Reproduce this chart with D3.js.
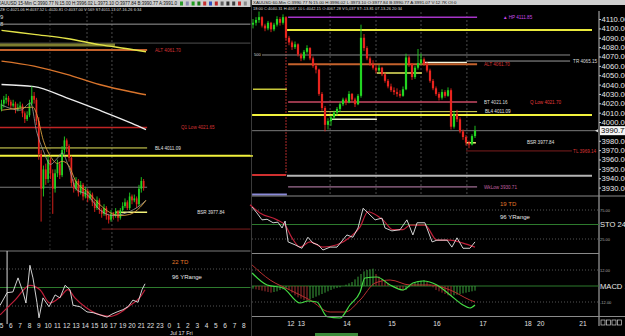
<!DOCTYPE html>
<html>
<head>
<meta charset="utf-8">
<script src="https://cdn.jsdelivr.net/npm/d3@7"></script>
<style>
  body { margin: 0; background: #000; }
  svg { display: block; font-family: "Liberation Sans", Arial, sans-serif; }
</style>
</head>
<body>
<div id="chart"></div>
<script>
// ---- data ----
// 15-min candles, left panel [open, high, low, close]
const leftCandles = [
  [4031,4036,4030,4034],[4034,4038,4032,4036],[4036,4039,4034,4037],[4037,4038,4033,4035],
  [4035,4036,4031,4033],[4033,4036,4032,4034],[4034,4035,4029,4031],[4031,4034,4030,4032],
  [4032,4035,4031,4033],[4033,4034,4027,4029],[4029,4030,4024,4026],[4026,4030,4025,4028],
  [4028,4036,4027,4034],[4034,4043,4033,4038],[4038,4040,4034,4036],[4036,4037,4023,4025],
  [4025,4027,4005,4008],[4008,4010,3973,3990],[3990,4002,3986,4000],[4000,4003,3992,3995],
  [3995,4007,3993,4005],[4005,4006,3995,3998],[3998,4000,3977,3990],[3990,4000,3988,3998],
  [3998,4005,3996,4003],[4003,4004,3995,3997],[3997,4012,3996,4010],[4010,4017,4008,4015],
  [4015,4016,4009,4012],[4012,4013,4004,4006],[4006,4007,3991,3993],[3993,3995,3988,3990],
  [3990,3996,3989,3994],[3994,3995,3986,3988],[3988,3994,3987,3992],[3992,3993,3984,3986],
  [3986,3991,3985,3989],[3989,3990,3983,3985],[3985,3989,3984,3987],[3987,3988,3981,3983],
  [3983,3984,3978,3980],[3980,3986,3979,3984],[3984,3985,3977,3979],[3979,3980,3975,3977],
  [3977,3982,3976,3980],[3980,3981,3974,3976],[3976,3977,3972,3974],[3974,3979,3973,3977],
  [3977,3978,3974,3976],[3976,3980,3975,3978],[3978,3979,3973,3975],[3975,3980,3974,3979],
  [3979,3983,3978,3981],[3981,3985,3980,3983],[3983,3984,3979,3980],[3980,3988,3979,3986],
  [3986,3987,3982,3984],[3984,3987,3983,3985],[3985,3986,3980,3982],[3982,3992,3981,3990],
  [3990,3996,3988,3994],[3994,3995,3989,3990.77]
];

// 60-min candles, right panel [open, high, low, close]
const rightCandles = [
  [4104,4110,4100,4106],[4106,4112,4103,4109],[4109,4118,4106,4112],[4112,4113,4101,4103],
  [4103,4105,4097,4100],[4100,4108,4098,4106],[4106,4107,4096,4099],[4099,4106,4097,4104],
  [4104,4113,4102,4110],[4110,4112,4103,4106],[4106,4115,4104,4112],[4112,4113,4088,4090],
  [4090,4092,4082,4085],[4085,4087,4077,4080],[4080,4086,4078,4083],[4083,4084,4070,4072],
  [4072,4074,4065,4068],[4068,4077,4066,4075],[4075,4082,4073,4079],[4079,4080,4066,4068],
  [4068,4070,4058,4060],[4060,4063,4052,4056],[4056,4057,4028,4030],[4030,4032,4012,4015],
  [4015,4017,3990,3997],[3997,4004,3992,4001],[4001,4007,3996,4005],[4005,4012,4003,4010],
  [4010,4016,4007,4014],[4014,4021,4011,4019],[4019,4026,4017,4024],[4024,4026,4018,4021],
  [4021,4033,4020,4030],[4030,4031,4021,4024],[4024,4026,4016,4019],[4019,4030,4018,4028],
  [4028,4104,4026,4090],[4090,4094,4076,4079],[4079,4081,4066,4068],[4068,4070,4060,4062],
  [4062,4066,4056,4058],[4058,4060,4052,4055],[4055,4061,4053,4058],[4058,4059,4049,4051],
  [4051,4053,4042,4044],[4044,4046,4036,4038],[4038,4041,4032,4034],[4034,4037,4029,4032],
  [4032,4036,4027,4030],[4030,4034,4026,4028],[4028,4038,4027,4035],[4035,4073,4034,4069],
  [4069,4071,4059,4062],[4062,4063,4045,4048],[4048,4060,4046,4058],[4058,4078,4056,4063],
  [4063,4073,4061,4067],[4067,4069,4060,4062],[4062,4064,4053,4055],[4055,4057,4042,4044],
  [4044,4046,4034,4036],[4036,4038,4028,4030],[4030,4032,4023,4026],[4026,4035,4024,4032],
  [4032,4034,4026,4028],[4028,4037,4027,4034],[4034,4036,3992,3995],[3995,4012,3993,4008],
  [4008,4013,4000,4003],[4003,4005,3988,3990],[3990,3992,3981,3984],[3984,3986,3975,3978],
  [3978,3980,3972,3976],[3976,3987,3975,3985],[3985,3996,3983,3990.77]
];

// slow moving averages on the left panel, sampled at candle indexes
const maIdx    = [0, 14, 28, 42, 56, 62];
const maYellow = [4071.9, 4069.8, 4067.7, 4064.5, 4062.0, 4060.8];
const maOrange = [4056.0, 4053.4, 4049.1, 4043.9, 4040.0, 4038.6];
const maWhite  = [4043.9, 4042.8, 4037.0, 4030.6, 4023.8, 4020.6];

// fast moving averages [candle index, price]
const maFastOrange = [[0,4030.6],[8,4031.7],[13.5,4032.2],[15,4029],[18,4014.8],[21,4006.8],[24,4003.1],
  [26,4004.2],[28.5,4002.6],[32,3993.6],[37,3988.3],[42,3982],[46.5,3977.7],[51,3976.1],[55,3976.7],
  [59.5,3980.4],[62,3984]];
const maFastGray = [[0,4033.3],[8,4030.6],[12.5,4034.3],[15,4020],[18,4009.5],[21,4002.6],[24,4005.8],
  [26,4008.5],[28.5,4002.6],[32,3989.9],[37,3986.7],[42,3979.3],[48,3976.1],[54,3977.7],[59.5,3981.4],[62,3984]];

// left oscillator [candle index, value]
const leftOscK = [[-0.6,26],[2.4,43],[4.9,44],[7.1,63],[9.2,44],[10.5,29],[12.2,80],[13.5,63],[15.2,30],
  [16.1,9],[17.8,36],[20.4,24],[23,40],[25.1,36],[27.3,53],[29.4,47],[30.7,26],[33.7,24],[36.7,17],
  [39.3,16],[42.3,13],[45.3,10],[47.4,14],[49.6,17],[52.1,20],[54.3,24],[56.4,33],[58.6,30],[60.3,47],[61.6,55]];
const leftOscD = [[-0.6,13],[5.8,33],[12.2,53],[16.5,47],[20.8,29],[25.1,37],[28.5,47],[31.5,36],
  [35.8,24],[42.3,13],[46.6,11],[50.9,16],[55.2,26],[59.5,37],[61.6,47]];

// right stochastic [candle index, value]
const stoK = [[-0.3,80],[1.3,70],[3,58],[4.7,59],[6.7,53],[8.3,54],[9.7,44],[10.7,56],[11.7,20],[14,15],
  [16.3,9],[18.3,28],[20,18],[21.7,15],[23.3,6],[25.7,11],[28,11],[31.3,32],[33.3,28],[35,44],[36.7,78],
  [38.3,70],[40.7,58],[43,61],[44,44],[46.3,39],[49,41],[51.3,58],[53.3,32],[54.7,53],[57.3,53],[59.7,20],
  [61.3,23],[64.7,23],[66.3,11],[68,27],[70,9],[72.3,9],[74,20]];
const stoD = [[-1,84],[2.3,70],[8,58],[10.7,49],[13,27],[15.7,11],[19,20],[23.3,11],[28,15],[32.3,28],
  [35.7,46],[38.3,72],[43.3,58],[46.7,41],[50,41],[52.3,49],[57.3,49],[61.3,23],[65.7,23],[70,18],[74,11]];

// right MACD [candle index, value] and histogram per candle
const macdLine = [[-0.3,9.75],[4.7,0.75],[10,-1.5],[15.7,-12.75],[18.3,-11.25],[21.3,-12],[24.7,-23],
  [29,-24],[32.3,-14.25],[35.7,-4.5],[37.3,6],[41.3,6.75],[45.7,0.75],[50,-3],[53.3,2.25],[56.7,3.75],
  [61.3,0.75],[65.7,-6.75],[70,-14.25],[72.3,-16.5],[74,-14.25]];
const macdSignal = [[-0.3,15.75],[5.7,4.5],[12.3,-3],[19,-10.5],[25.7,-19.5],[30.7,-19.5],[35.7,-10.5],
  [40.7,2.25],[45.7,4.5],[52.3,0.75],[59,0.75],[65.7,-3],[72.3,-10.5],[74,-12]];
const macdHist = [-2,-2.5,-3,-3.5,-4,-4.5,-5, -4.5,-4,-3,-2.5,-2, -3,-5,-7,-8.5,-9.5,-10.5,-11,
  -10,-9,-8,-7,-6,-5,-4,-3,-2,-1.5,-1, 0,1,2,3,5,7,9,11,12,12.5,13, 9,7,5,3,2,0,
  -1,-2,-3,-3.5,-3, -1,1,2.5,3.5,4,4.5, 3,1,-1,-3,-4,-5,-6,-7,-7.5, -7,-6.5,-6,-5.5,-5,-4.5,-4,-3.5];

// price levels
const leftLevels = [
  {id:"g1",   price:4075.1,  from:-1,   to:107},
  {id:"g2",   price:4065.3,  from:-1,   to:107},
  {id:"band", price:4064.3,  from:-1,   to:48.7},
  {id:"alt",  price:4061.70, from:-1,   to:62.5, label:"ALT 4061.70"},
  {id:"q1",   price:4021.65, from:-1,   to:62.5, label:"Q1 Low 4021.65"},
  {id:"bl4",  price:4011.09, from:-1,   to:62.5, label:"BL4 4011.09"},
  {id:"yt",   price:4007.0,  from:-1,   to:107},
  {id:"cur",  price:3990.77, from:-1,   to:62.5},
  {id:"bsr",  price:3977.84, from:48.7, to:62.5, label:"BSR 3977.84"},
  {id:"tl",   price:3969.14, from:43,   to:107}
];
const rightLevels = [
  {id:"hp",   price:4111.85, from:11.7, to:74.7,  label:"\u25B2 HP 4111.85"},
  {id:"y1",   price:4098.3,  from:11.3, to:113},
  {id:"g500", price:4071.6,  from:3,    to:105.7},
  {id:"tr",   price:4065.15, from:71.3, to:105.7, label:"TR 4065.15"},
  {id:"sh",   price:4063.5,  from:56.7, to:71.3},
  {id:"alt",  price:4061.70, from:11.7, to:74.7,  label:"ALT 4061.70"},
  {id:"y2",   price:4052.4,  from:41.3, to:56.3},
  {id:"y3",   price:4035.0,  from:0,    to:11.3},
  {id:"bt",   price:4021.3,  from:11.7, to:74.7,  label:"BT 4021.16"},
  {id:"ql",   price:4021.3,  from:0,    to:0,     label:"Q Low 4021.70"},
  {id:"bl4",  price:4011.09, from:11.7, to:74.7,  label:"BL4 4011.09"},
  {id:"yt",   price:4007.4,  from:-0.3, to:113},
  {id:"ws",   price:4003.0,  from:25.7, to:41.3},
  {id:"cur",  price:3990.77, from:-0.3, to:115},
  {id:"bsr",  price:3977.84, from:71,   to:74.3,  label:"BSR 3977.84"},
  {id:"tl",   price:3969.14, from:71,   to:106.3, label:"TL 3969.14"},
  {id:"y4",   price:3963.8,  from:-1,   to:0},
  {id:"rl",   price:3943.5,  from:-0.3, to:11},
  {id:"gt",   price:3942.5,  from:11.3, to:113},
  {id:"wl",   price:3930.71, from:11.7, to:74.7,  label:"WkLow 3930.71"},
  {id:"bl",   price:3922.5,  from:-0.3, to:11.3}
];

const hourLabels = ["5","6","7","8","9","10","11","12","13","14","15","16","17","19","20","21","22","23",
  "0","1","2","3","4","5","6","7","8","9"];
const dayLabels = ["12","13","14","15","16","17","18","20","21"];
const dayPos    = [12.6, 16.1, 31.3, 46.3, 61.3, 76.7, 91.7, 95.9, 110];
const daySeps   = [25.7, 41, 56, 71.3];
const leftSeps  = [20.8, 36.7, 47.4];
const priceTicks = d3.range(3930, 4111, 10).filter(v => v !== 3990);

const leftTitle  = "XAUUSD 15-Min C:3990.77 N:15.00 H:3996.02 L:3973.10 O:3977.84 B:3990.77 A:3991.0";
const leftInfo   = "ZE C:4021.06 H:4037.52 L:4020.81 O:4037.00 V:569 ST:4011.13 07-16-26 6:34";
const rightTitle = "XAUUSD 60-Min C:3990.77 N:15.00 H:3996.02 L:3973.10 O:3977.84 B:3990.77 A:3991.07 V:12.7K OI:0";
const rightInfo  = "18:00 C:4040.31 H:4067.10 L:4042.15 O:4067.28 V:5,037 ST:-13.81 07-13-26 20:34";

// ---- styles ----
const upCol = "#22d422", dnCol = "#e8241e";
const levelStyle = {
  g1:{stroke:"#9a9a9a", w:1}, g2:{stroke:"#505050", w:1}, band:{stroke:"#7d7d2e", w:3},
  alt:{stroke:"#c4622c", w:2, text:"#d83434"}, q1:{stroke:"#c02424", w:1.5, text:"#d83434"},
  bl4:{stroke:"#e6e65a", w:1, text:"#e0e0e0"}, yt:{stroke:"#f2f23c", w:2},
  cur:{stroke:"#7a7a7a", w:1}, bsr:{stroke:"#f2f27a", w:1.5, text:"#e0e0e0"},
  tl:{stroke:"#7e1e1e", w:1, text:"#d83434"},
  hp:{stroke:"#a634c8", w:1.5, text:"#c848e8"}, y1:{stroke:"#eaea3c", w:2},
  g500:{stroke:"#8a8a8a", w:1}, tr:{stroke:"#9a9a9a", w:1, text:"#dddddd"},
  sh:{stroke:"#f4f4dc", w:1.5}, y2:{stroke:"#e8e860", w:1.5}, y3:{stroke:"#c8c83a", w:1.5},
  bt:{stroke:"#c84a64", w:1.5, text:"#dddddd"}, ql:{stroke:"none", w:0, text:"#e03a3a"},
  ws:{stroke:"#f0f0d0", w:1.5}, y4:{stroke:"#e6e640", w:1.5}, rl:{stroke:"#d03030", w:2},
  gt:{stroke:"#b4b4b4", w:2}, wl:{stroke:"#c88ab8", w:1, text:"#c060a0"}, bl:{stroke:"#8a8ad8", w:2}
};
const leftLabelAt  = {alt:65.9, q1:77, bl4:65.9, bsr:84};
const rightLabelAt = {hp:83.3, tr:106.7, alt:77, bt:77, ql:92.3, bl4:77.3, bsr:91.3, tl:106.7, wl:77};

// ---- setup ----
const W = 625, H = 336;
const svg = d3.select("#chart").append("svg").attr("width", W).attr("height", H)
  .style("background", "#000");
svg.append("defs").append("clipPath").attr("id", "clipL")
  .append("rect").attr("x", 0).attr("y", 0).attr("width", 250.5).attr("height", H);

const xL = d3.scaleLinear().domain([0, 100]).range([1.5, 234.5]);
const yL = d3.scaleLinear().domain([3957.8, 4081.9]).range([251, 11]);
const yO = d3.scaleLinear().domain([0, 100]).range([324.5, 250.5]);
const xR = d3.scaleLinear().domain([0, 100]).range([253, 553]);
const yR = d3.scaleLinear().domain([3921, 4125]).range([196, 5]);
const yS = d3.scaleLinear().domain([0, 100]).range([253.5, 195.5]);
const yM = d3.scaleLinear().domain([-24, 24]).range([318, 254]);

function hline(g, x1, x2, y, color, w, dash) {
  g.append("line").attr("x1", x1).attr("x2", x2).attr("y1", y).attr("y2", y)
    .attr("stroke", color).attr("stroke-width", w || 1)
    .attr("stroke-dasharray", dash || null);
}

function drawLevels(g, levels, x, y, labelAt) {
  g.selectAll(null).data(levels.filter(d => d.to > d.from)).enter().append("line")
    .attr("x1", d => x(d.from)).attr("x2", d => x(d.to))
    .attr("y1", d => y(d.price)).attr("y2", d => y(d.price))
    .attr("stroke", d => levelStyle[d.id].stroke)
    .attr("stroke-width", d => levelStyle[d.id].w);
  g.selectAll(null).data(levels.filter(d => d.label)).enter().append("text")
    .attr("x", d => x(labelAt[d.id])).attr("y", d => y(d.price) + 1.6)
    .attr("font-size", 4.6).attr("fill", d => levelStyle[d.id].text)
    .text(d => d.label);
}

function drawCandles(g, data, x, y, bw) {
  const c = g.selectAll(null).data(data).enter().append("g");
  c.append("line")
    .attr("x1", (d, i) => x(i)).attr("x2", (d, i) => x(i))
    .attr("y1", d => y(d[1])).attr("y2", d => y(d[2]))
    .attr("stroke", d => d[3] >= d[0] ? upCol : dnCol).attr("stroke-width", 0.9);
  c.append("rect")
    .attr("x", (d, i) => x(i) - bw / 2).attr("width", bw)
    .attr("y", d => y(Math.max(d[0], d[3])))
    .attr("height", d => Math.max(1, Math.abs(y(d[0]) - y(d[3]))))
    .attr("fill", d => d[3] >= d[0] ? upCol : dnCol);
}

function pairLine(g, pts, x, y, color, w, curve) {
  g.append("path").datum(pts)
    .attr("d", d3.line().x(d => x(d[0])).y(d => y(d[1])).curve(curve || d3.curveLinear))
    .attr("fill", "none").attr("stroke", color).attr("stroke-width", w);
}

// ================= LEFT PANEL (15-min) =================
const gL = svg.append("g").attr("clip-path", "url(#clipL)");

gL.append("rect").attr("x", 0).attr("y", 0).attr("width", 251).attr("height", 7).attr("fill", "#cfcfcf");
gL.append("text").attr("x", -2).attr("y", 5.2).attr("font-size", 4.5).attr("fill", "#111").text(leftTitle);
const iconCols = ["#2a9a2a","#8a8ab0","#20a020","#1a7a1a","#c83030","#3050c0","#c02828","#606060","#303030","#404040","#c83030","#8a8a8a"];
gL.selectAll(null).data(iconCols).enter().append("rect")
  .attr("x", (d, i) => 180 + i * 5.8).attr("y", 1.5).attr("width", 3).attr("height", 4)
  .attr("fill", d => d);
gL.append("text").attr("x", 0).attr("y", 10.5).attr("font-size", 4).attr("fill", "#dddddd").text(leftInfo);
gL.append("text").attr("x", 0).attr("y", 19).attr("font-size", 6).attr("fill", "#dddddd").text("9");
gL.append("text").attr("x", 0).attr("y", 26).attr("font-size", 6).attr("fill", "#dddddd").text("8");

// session separators
gL.selectAll(null).data(leftSeps).enter().append("line")
  .attr("x1", d => xL(d)).attr("x2", d => xL(d)).attr("y1", 12).attr("y2", 251)
  .attr("stroke", (d, i) => i === 0 ? "#2e2e2e" : "#4a4a4a").attr("stroke-dasharray", "2,2");

drawLevels(gL, leftLevels, xL, yL, leftLabelAt);

const maLine = d3.line().x((d, i) => xL(maIdx[i])).y(d => yL(d)).curve(d3.curveMonotoneX);
gL.append("path").datum(maYellow).attr("d", maLine).attr("fill", "none").attr("stroke", "#e4e448").attr("stroke-width", 1.4);
gL.append("path").datum(maOrange).attr("d", maLine).attr("fill", "none").attr("stroke", "#d8742c").attr("stroke-width", 1.4);
gL.append("path").datum(maWhite).attr("d", maLine).attr("fill", "none").attr("stroke", "#ececec").attr("stroke-width", 1.4);

drawCandles(gL, leftCandles, xL, yL, 1.7);
pairLine(gL, maFastGray, xL, yL, "#a0a0a0", 0.8, d3.curveMonotoneX);
pairLine(gL, maFastOrange, xL, yL, "#d8a040", 0.9, d3.curveMonotoneX);

// oscillator pane
hline(gL, 0, 251, 251, "#7a7a7a", 1);
hline(gL, 0, 251, yO(75), "#6a6a6a", 0.8, "1,2");
hline(gL, 0, 251, yO(50), "#2d7a2d", 1);
hline(gL, 0, 251, yO(25), "#6a6a6a", 0.8, "1,2");
gL.append("line").attr("x1", xL(2.4)).attr("x2", xL(2.4)).attr("y1", 251).attr("y2", 324)
  .attr("stroke", "#d8d8d8").attr("stroke-width", 1);
pairLine(gL, leftOscD, xL, yO, "#c0203a", 1.2, d3.curveMonotoneX);
pairLine(gL, leftOscK, xL, yO, "#e8e8e8", 0.9);
gL.append("text").attr("x", 172).attr("y", 264).attr("font-size", 6).attr("fill", "#e0782a").text("22 TD");
gL.append("text").attr("x", 172).attr("y", 279).attr("font-size", 6).attr("fill", "#e8e8e8").text("96 YRange");

gL.selectAll(null).data(hourLabels).enter().append("text")
  .attr("x", (d, i) => xL(i * 4)).attr("y", 328).attr("text-anchor", "middle")
  .attr("font-size", 6.5).attr("fill", "#e0e0e0").text(d => d);
gL.append("text").attr("x", 170).attr("y", 334.5).attr("font-size", 5.5).attr("fill", "#e0e0e0").text("Jul 17 Fri");

// ================= RIGHT PANEL (60-min) =================
const gR = svg.append("g");
gR.append("line").attr("x1", 251.5).attr("x2", 251.5).attr("y1", 0).attr("y2", H).attr("stroke", "#3a3a3a");
gR.append("rect").attr("x", 252).attr("y", 0).attr("width", W - 252).attr("height", 5).attr("fill", "#cfcfcf");
gR.append("text").attr("x", 253).attr("y", 4.2).attr("font-size", 4.4).attr("fill", "#111").text(rightTitle);
gR.append("text").attr("x", 253).attr("y", 10).attr("font-size", 4).attr("fill", "#dddddd").text(rightInfo);
gR.append("text").attr("x", 254).attr("y", yR(4071.6) + 1.5).attr("font-size", 4).attr("fill", "#dddddd").text("500");

gR.selectAll(null).data(daySeps).enter().append("line")
  .attr("x1", d => xR(d)).attr("x2", d => xR(d)).attr("y1", 12).attr("y2", 196)
  .attr("stroke", "#4a4a4a").attr("stroke-dasharray", "2,2");
gR.append("line").attr("x1", xR(11)).attr("x2", xR(11))
  .attr("y1", yR(4098.3)).attr("y2", yR(3943.5))
  .attr("stroke", "#b02a2a").attr("stroke-dasharray", "2,1");

drawLevels(gR, rightLevels, xR, yR, rightLabelAt);
drawCandles(gR, rightCandles, xR, yR, 2.2);

// price axis
const axisR = gR.append("g").attr("transform", "translate(599,0)")
  .call(d3.axisRight(yR).tickValues(priceTicks).tickFormat(d3.format(".2f")).tickSize(2).tickPadding(0.5));
axisR.select(".domain").remove();
axisR.selectAll("line").attr("stroke", "#cfcfcf");
axisR.selectAll("text").attr("fill", "#e8e8e8").attr("font-size", 7.6)
  .attr("font-family", "'Liberation Sans', Arial, sans-serif");
gR.append("line").attr("x1", 599).attr("x2", 599).attr("y1", 11).attr("y2", 326).attr("stroke", "#bdbdbd");
gR.append("rect").attr("x", 600).attr("y", yR(3990.77) - 4.5).attr("width", 25).attr("height", 9).attr("fill", "#f4f4f4");
gR.append("text").attr("x", 601).attr("y", yR(3990.77) + 2.8).attr("font-size", 7.6).attr("fill", "#000").text("3990.77");
gR.append("path").attr("d", `M595,${yR(3990.77)}l3,-1.5v3z`).attr("fill", "#dddddd");

// stochastic pane
hline(gR, 252, W, 196, "#8a8a8a", 1);
hline(gR, 252, 599, yS(75), "#6a6a6a", 0.8, "1,2");
hline(gR, 252, 599, yS(50), "#2d7a2d", 1);
hline(gR, 252, 599, yS(25), "#6a6a6a", 0.8, "1,2");
hline(gR, 252, 599, 253.5, "#8a8a8a", 1);
pairLine(gR, stoD, xR, yS, "#c0203a", 1.2, d3.curveMonotoneX);
pairLine(gR, stoK, xR, yS, "#e8e8e8", 0.9);
gR.append("text").attr("x", 500).attr("y", 206).attr("font-size", 6).attr("fill", "#e0782a").text("19 TD");
gR.append("text").attr("x", 500).attr("y", 219).attr("font-size", 6).attr("fill", "#e8e8e8").text("96 YRange");
gR.append("text").attr("x", 600).attr("y", yS(75) + 1.5).attr("font-size", 4).attr("fill", "#aaa").text("75.00");
gR.append("text").attr("x", 600).attr("y", yS(50) + 2.8).attr("font-size", 7.6).attr("fill", "#e8e8e8").text("STO  24");
gR.append("text").attr("x", 600).attr("y", yS(25) + 1.5).attr("font-size", 4).attr("fill", "#aaa").text("25.00");

// MACD pane
hline(gR, 252, 599, yM(12), "#6a6a6a", 0.8, "1,2");
hline(gR, 252, 599, yM(0), "#2d7a2d", 1);
hline(gR, 252, 599, yM(-12), "#6a6a6a", 0.8, "1,2");
gR.selectAll(null).data(macdHist).enter().append("line")
  .attr("x1", (d, i) => xR(i)).attr("x2", (d, i) => xR(i))
  .attr("y1", yM(0)).attr("y2", d => yM(d))
  .attr("stroke", (d, i) => i > 0 && d < macdHist[i - 1] ? "#a03030" : "#3aa03a")
  .attr("stroke-width", 1);
pairLine(gR, macdSignal, xR, yM, "#b83030", 1, d3.curveMonotoneX);
pairLine(gR, macdLine, xR, yM, "#44dc44", 1.2, d3.curveMonotoneX);
gR.append("text").attr("x", 600).attr("y", yM(12) + 1.5).attr("font-size", 4).attr("fill", "#aaa").text("12.00");
gR.append("text").attr("x", 600).attr("y", yM(0) + 2.8).attr("font-size", 7.6).attr("fill", "#e8e8e8").text("MACD  1");
gR.append("text").attr("x", 600).attr("y", yM(-12) + 1.5).attr("font-size", 4).attr("fill", "#aaa").text("-12.00");

// time axis
hline(gR, 252, W, 316.5, "#8a8a8a", 1);
gR.selectAll(null).data(dayLabels).enter().append("text")
  .attr("x", (d, i) => xR(dayPos[i])).attr("y", 326).attr("text-anchor", "middle")
  .attr("font-size", 6.6).attr("fill", "#e0e0e0").text(d => d);
gR.selectAll(null).data([0, 1, 2, 3]).enter().append("rect")
  .attr("x", d => 601 + d * 5.5).attr("y", 320).attr("width", 4).attr("height", 5)
  .attr("fill", "none").attr("stroke", "#cfcfcf").attr("stroke-width", 0.7);
gR.append("rect").attr("x", 315).attr("y", 333).attr("width", 43).attr("height", 3).attr("fill", "#3a8a3a");
</script>
</body>
</html>
